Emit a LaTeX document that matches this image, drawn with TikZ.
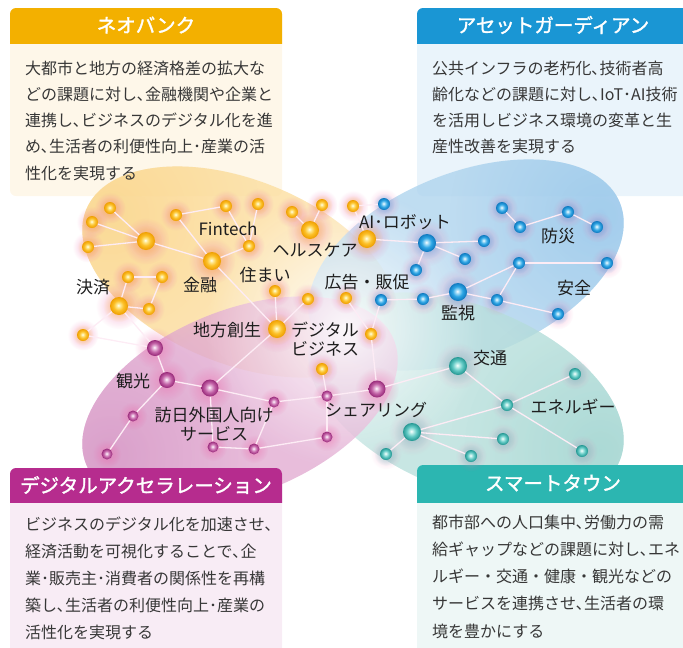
\documentclass[tikz,border=0pt]{standalone}
\usepackage{fontspec}
\setmainfont{Noto Sans CJK JP}
\newfontfamily\hdfont[FakeBold=1.6]{Noto Sans CJK JP}
\usetikzlibrary{fadings}
\tikzfading[name=softglow, inner color=transparent!0, outer color=transparent!100]
\pgfdeclarelayer{bg}
\pgfdeclarelayer{glowl}
\pgfdeclarelayer{edgel}
\pgfsetlayers{bg,glowl,edgel,main}

\definecolor{orH}{RGB}{243,176,0}
\definecolor{orB}{RGB}{254,247,233}
\definecolor{blH}{RGB}{26,150,212}
\definecolor{blB}{RGB}{234,244,251}
\definecolor{mgH}{RGB}{182,44,142}
\definecolor{mgB}{RGB}{248,236,245}
\definecolor{tlH}{RGB}{44,182,177}
\definecolor{tlB}{RGB}{238,247,246}
\definecolor{orLeaf}{RGB}{252,222,160}
\definecolor{blLeaf}{RGB}{175,212,238}
\definecolor{tlLeaf}{RGB}{185,224,220}
\definecolor{pkLeaf}{RGB}{226,172,210}
\definecolor{orLeafD}{RGB}{250,210,130}
\definecolor{blLeafD}{RGB}{150,198,234}
\definecolor{tlLeafD}{RGB}{160,212,208}
\definecolor{pkLeafD}{RGB}{212,148,196}
\definecolor{txt}{RGB}{55,55,55}
\definecolor{lbltxt}{RGB}{30,30,30}
\definecolor{edgec}{RGB}{253,236,245}
\definecolor{glowpk}{RGB}{236,105,170}
\definecolor{glowtl}{RGB}{110,200,195}
% ball colours
\definecolor{oL}{RGB}{255,238,160}
\definecolor{oM}{RGB}{252,192,40}
\definecolor{oD}{RGB}{238,158,0}
\definecolor{bL}{RGB}{180,228,250}
\definecolor{bM}{RGB}{45,165,228}
\definecolor{bD}{RGB}{15,120,190}
\definecolor{pL}{RGB}{238,200,228}
\definecolor{pM}{RGB}{196,100,168}
\definecolor{pD}{RGB}{150,40,120}
\definecolor{tL}{RGB}{200,242,238}
\definecolor{tM}{RGB}{95,200,195}
\definecolor{tD}{RGB}{35,150,145}

\pgfdeclareradialshading{ballO}{\pgfpoint{-2bp}{2bp}}{color(0bp)=(white); color(4bp)=(oL); color(14bp)=(oM); color(25bp)=(oD); color(50bp)=(oD)}
\pgfdeclareradialshading{ballB}{\pgfpoint{-2bp}{2bp}}{color(0bp)=(white); color(4bp)=(bL); color(14bp)=(bM); color(25bp)=(bD); color(50bp)=(bD)}
\pgfdeclareradialshading{ballP}{\pgfpoint{-2bp}{2bp}}{color(0bp)=(white); color(4bp)=(pL); color(14bp)=(pM); color(25bp)=(pD); color(50bp)=(pD)}
\pgfdeclareradialshading{ballT}{\pgfpoint{-2bp}{2bp}}{color(0bp)=(white); color(4bp)=(tL); color(14bp)=(tM); color(25bp)=(tD); color(50bp)=(tD)}

\tikzset{
  ballnode/.style={circle, inner sep=0pt, outer sep=0pt},
  edge/.style={draw=edgec, line width=1.3pt},
  lbl/.style={font=\fontsize{17}{19}\selectfont, text=lbltxt, inner sep=0pt},
  bodytxt/.style={font=\fontsize{16}{20}\selectfont, text=txt, inner sep=0pt, anchor=base west},
  hdtxt/.style={font=\hdfont\fontsize{19.5}{22}\selectfont, text=white, inner sep=0pt},
}

\begin{document}
\begin{tikzpicture}[x=1pt,y=-1pt]
\useasboundingbox (0,0) rectangle (683,648);

\begin{pgfonlayer}{bg}
% top box bodies
\fill[orB, rounded corners=6pt] (10,8) rectangle (282,196);
\fill[blB, rounded corners=6pt] (417,8) rectangle (689,196);
% leaves
\fill[orLeaf, fill opacity=0.8, rotate around={-22:(240,272)}] (240,272) ellipse [x radius=166pt, y radius=92pt];
\fill[blLeaf, fill opacity=0.8, rotate around={22:(466,265)}] (466,265) ellipse [x radius=166pt, y radius=92pt];
\fill[tlLeaf, fill opacity=0.8, rotate around={-22:(466,398)}] (466,398) ellipse [x radius=166pt, y radius=92pt];
\fill[pkLeaf, fill opacity=0.8, rotate around={22:(240,402)}] (240,402) ellipse [x radius=166pt, y radius=92pt];
% darker outer tips
\begin{scope}
  \clip[rotate around={-22:(240,272)}] (240,272) ellipse [x radius=166pt, y radius=92pt];
  \fill[orLeafD, path fading=softglow, fill opacity=0.6] (110,215) circle [radius=150pt];
\end{scope}
\begin{scope}
  \clip[rotate around={22:(466,265)}] (466,265) ellipse [x radius=166pt, y radius=92pt];
  \fill[blLeafD, path fading=softglow, fill opacity=0.7] (600,215) circle [radius=150pt];
\end{scope}
\begin{scope}
  \clip[rotate around={-22:(466,398)}] (466,398) ellipse [x radius=166pt, y radius=92pt];
  \fill[tlLeafD, path fading=softglow, fill opacity=0.7] (600,450) circle [radius=150pt];
\end{scope}
\begin{scope}
  \clip[rotate around={22:(240,402)}] (240,402) ellipse [x radius=166pt, y radius=92pt];
  \fill[pkLeafD, path fading=softglow, fill opacity=0.7] (110,455) circle [radius=150pt];
\end{scope}
\fill[white, path fading=softglow, fill opacity=0.9] (345,328) circle [radius=140pt];
% headers of top boxes
\begin{scope}
  \clip (0,0) rectangle (683,43);
  \fill[orH, rounded corners=6pt] (10,8) rectangle (282,196);
  \fill[blH, rounded corners=6pt] (417,8) rectangle (689,196);
\end{scope}
% bottom boxes
\fill[mgB, rounded corners=6pt] (10,468) rectangle (282,660);
\fill[tlB, rounded corners=6pt] (417,465) rectangle (689,660);
\begin{scope}
  \clip (0,440) rectangle (683,502);
  \fill[mgH, rounded corners=6pt] (10,468) rectangle (282,660);
  \fill[tlH, rounded corners=6pt] (417,465) rectangle (689,660);
\end{scope}
\end{pgfonlayer}

% ---------- nodes ----------
% orange
\foreach \n/\x/\y/\r in {oA/146/241/9, oa1/110/208/6, oa2/92/222/6, oa3/88/247/6,
  kin/212/261/9, ob1/176/215/6, ob2/226/206/6, ob3/258/204/6, ob4/249/246/6,
  kes/119/306/9, oc1/128/277/6, oc2/162/277/6, oc3/149/309/6, oc4/83/335/6,
  chi/277/329/9, od1/275/291/6, od2/308/299/6,
  hea/310/230/9, of1/292/212/6, of2/322/205/6,
  ai/367/239/9, og1/353/206/6, oh1/346/298/6, oh2/371/334/6, oh3/322/369/6}{
  \node[ballnode, minimum size={2*\r pt}, shading=ballO] (\n) at (\x,\y) {};
  \begin{pgfonlayer}{glowl}
    \fill[glowpk, path fading=softglow, fill opacity=0.5] (\x,\y) circle [radius={2.6*\r pt}];
    \fill[oM, path fading=softglow, fill opacity=0.55] (\x,\y) circle [radius={1.8*\r pt}];
  \end{pgfonlayer}
}
% blue
\foreach \n/\x/\y/\r in {bl0/384/204/6, bbig/427/243/9, bb1/484/241/6, bb2/465/259/6, bb3/416/270/6,
  bs1/381/300/6, bs2/423/299/6, kan/458/292/9, bs3/497/300/6, bs4/558/314/6,
  bz1/519/263/6, bz2/607/263/6, bd1/502/208/6, bd2/520/227/6, bd3/568/212/6, bd4/597/227/6}{
  \node[ballnode, minimum size={2*\r pt}, shading=ballB] (\n) at (\x,\y) {};
  \begin{pgfonlayer}{glowl}
    \fill[glowpk, path fading=softglow, fill opacity=0.4] (\x,\y) circle [radius={2.6*\r pt}];
    \fill[bM, path fading=softglow, fill opacity=0.5] (\x,\y) circle [radius={1.8*\r pt}];
  \end{pgfonlayer}
}
% pink
\foreach \n/\x/\y/\r in {pk1/155/348/8, kank/167/380/8, hou/210/388/8.5, pa1/133/416/5.5, pa2/107/454/5.5,
  pb1/274/402/5.5, pb2/213/447/5.5, pb3/254/449/5.5, pb4/327/396/5.5, pb5/327/437/5.5, sha/377/389/8.5}{
  \node[ballnode, minimum size={2*\r pt}, shading=ballP] (\n) at (\x,\y) {};
  \begin{pgfonlayer}{glowl}
    \fill[glowpk, path fading=softglow, fill opacity=0.55] (\x,\y) circle [radius={2.6*\r pt}];
  \end{pgfonlayer}
}
% teal
\foreach \n/\x/\y/\r in {kou/458/366/9, ta1/507/405/6, ta2/575/374/6, ta3/582/451/6,
  thub/412/432/9, tb1/503/439/6, tb2/471/456/6, tb3/386/454/6}{
  \node[ballnode, minimum size={2*\r pt}, shading=ballT] (\n) at (\x,\y) {};
  \begin{pgfonlayer}{glowl}
    \fill[glowpk, path fading=softglow, fill opacity=0.3] (\x,\y) circle [radius={2.6*\r pt}];
    \fill[glowtl, path fading=softglow, fill opacity=0.6] (\x,\y) circle [radius={2.0*\r pt}];
  \end{pgfonlayer}
}

% ---------- edges ----------
\begin{pgfonlayer}{edgel}
\foreach \a/\b in {oA/oa1, oA/oa2, oA/oa3, oA/kin, kin/ob1, ob1/ob2, ob2/ob4, ob3/ob4, kin/ob4, kin/chi,
  kes/oc1, oc1/oc2, oc2/oc3, oc3/kes, kes/oc4, oc4/pk1, kes/pk1,
  chi/od1, chi/od2, chi/hou, hea/of1, hea/of2,
  ai/og1, og1/bl0, ai/bbig, bbig/bb1, bbig/bb2, bbig/bb3,
  oh1/oh2, oh2/bs1, oh2/sha, oh3/pb4,
  bs1/bs2, bs2/kan, kan/bs3, bs3/bs4, kan/bz1, bz1/bz2, bz1/bs3,
  bd1/bd2, bd2/bd3, bd3/bd4,
  pk1/kank, kank/hou, kank/pa1, pa1/pa2, hou/pb1, hou/pb2, pb1/pb4, pb1/pb3, pb2/pb3, pb3/pb5, pb4/pb5, pb4/sha, sha/kou,
  kou/ta1, ta1/ta2, ta1/ta3, ta1/thub, thub/tb1, thub/tb2, thub/tb3}{
  \draw[edge] (\a) -- (\b);
}
\end{pgfonlayer}

% ---------- labels ----------
\node[lbl] (lfin) at (228,229) {Fintech};
\node[lbl] (lkes) at (93,287) {決済};
\node[lbl] (lkin) at (200,285) {金融};
\node[lbl] (lsum) at (265,275) {住まい};
\node[lbl] (lhea) at (315,250) {ヘルスケア};
\node[lbl] (lai) at (405,222) {AI･ロボット};
\node[lbl] (lbou) at (558,236) {防災};
\node[lbl] (lkou) at (367,282) {広告・販促};
\node[lbl] (lanz) at (574,288) {安全};
\node[lbl] (lkan) at (458,313) {監視};
\node[lbl] (lchi) at (227,330) {地方創生};
\node[lbl, align=left, anchor=west] (ldig) at (291,339) {デジタル\\ビジネス};
\node[lbl] (lkank) at (133,381) {観光};
\node[lbl, align=center] (lhou) at (214,424) {訪日外国人向け\\サービス};
\node[lbl] (lsha) at (376,410) {シェアリング};
\node[lbl] (lkot) at (490,358) {交通};
\node[lbl] (lene) at (573,407) {エネルギー};

% ---------- box texts ----------
\node[hdtxt] (h1) at (146,25) {ネオバンク};
\node[hdtxt] (h2) at (553,25) {アセットガーディアン};
\node[hdtxt] (h3) at (146,485) {デジタルアクセラレーション};
\node[hdtxt] (h4) at (553,483) {スマートタウン};

\foreach \t [count=\i] in {{大都市と地方の経済格差の拡大な},{どの課題に対し､金融機関や企業と},{連携し､ビジネスのデジタル化を進},{め､生活者の利便性向上･産業の活},{性化を実現する}}{
  \node[bodytxt] (tl\i) at (25,{74+26.3*(\i-1)}) {\t};
}
\foreach \t [count=\i] in {{公共インフラの老朽化､技術者高},{齢化などの課題に対し､IoT･AI技術},{を活用しビジネス環境の変革と生},{産性改善を実現する}}{
  \node[bodytxt] (tr\i) at (432,{74+26.3*(\i-1)}) {\t};
}
\foreach \t [count=\i] in {{ビジネスのデジタル化を加速させ､},{経済活動を可視化することで､企},{業･販売主･消費者の関係性を再構},{築し､生活者の利便性向上･産業の},{活性化を実現する}}{
  \node[bodytxt] (bl\i) at (25,{530+27*(\i-1)}) {\t};
}
\foreach \t [count=\i] in {{都市部への人口集中､労働力の需},{給ギャップなどの課題に対し､エネ},{ルギー・交通・健康・観光などの},{サービスを連携させ､生活者の環},{境を豊かにする}}{
  \node[bodytxt] (br\i) at (432,{528+27.3*(\i-1)}) {\t};
}
\end{tikzpicture}
\end{document}
